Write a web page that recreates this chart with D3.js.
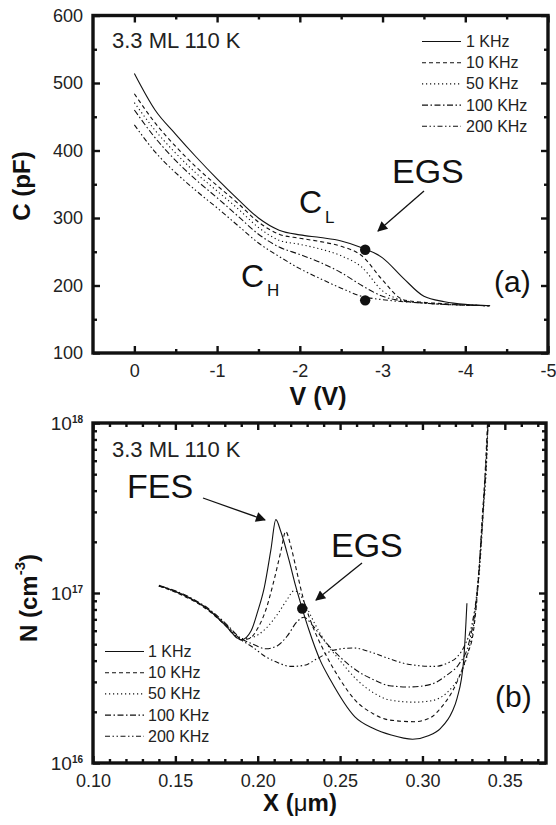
<!DOCTYPE html>
<html lang="en">
  <head>
    <meta charset="UTF-8" />
    <title>C-V and N-X profiles</title>
    <style>
      body {
        margin: 0;
        background: #fff;
      }
      #chart {
        width: 556px;
        height: 825px;
      }
      text {
        font-family: "Liberation Sans", Arial, sans-serif;
      }
    </style>
  </head>
  <body>
    <div id="chart"></div>
    <script src="https://cdn.jsdelivr.net/npm/d3@7/dist/d3.min.js"></script>
    <script>
      // frequencies shown in both panels
      var freqLabels = ["1 KHz", "10 KHz", "50 KHz", "100 KHz", "200 KHz"];

      // panel (a): C (pF) vs V (V)
      var voltage = [0, -0.25, -0.5, -0.75, -1, -1.25, -1.5, -1.75, -2, -2.25, -2.5, -2.75, -3, -3.25, -3.5, -3.75, -4, -4.3];
      var cap1k = [514, 460, 424, 390, 358, 328, 300, 282, 275, 271, 266, 256, 241, 211, 184, 176, 172, 170];
      var cap10k = [484, 441, 406, 375, 348, 322, 294, 276, 270, 265, 258, 244, 208, 179, 175, 173, 171, 170];
      var cap50k = [471, 430, 396, 366, 340, 314, 286, 267, 261, 254, 244, 227, 192, 178, 174, 172, 171, 170];
      var cap100k = [460, 419, 385, 356, 330, 303, 276, 257, 246, 234, 219, 200, 184, 177, 174, 172, 171, 170];
      var cap200k = [438, 398, 367, 340, 315, 289, 263, 243, 225, 210, 196, 184, 179, 176, 174, 172, 171, 170];
      var egsA = [[-2.79, 253], [-2.79, 178]];

      // panel (b): N (cm-3) vs X (um)
      var x1k = [0.14, 0.15, 0.16, 0.17, 0.18, 0.19, 0.196, 0.2, 0.204, 0.208, 0.211, 0.214, 0.219, 0.223, 0.227, 0.231, 0.238, 0.244, 0.259, 0.27, 0.281, 0.294, 0.304, 0.311, 0.318, 0.321, 0.325, 0.327];
      var n1k = [1.11e17, 1.02e17, 9.2e16, 8.0e16, 6.5e16, 5.3e16, 6.0e16, 7.8e16, 1.08e17, 1.8e17, 2.7e17, 2.3e17, 1.56e17, 1.1e17, 8.1e16, 6.1e16, 4.0e16, 3.1e16, 1.87e16, 1.6e16, 1.46e16, 1.38e16, 1.45e16, 1.6e16, 2.0e16, 2.4e16, 4.0e16, 8.7e16];
      var x10k = [0.14, 0.15, 0.16, 0.17, 0.18, 0.19, 0.195, 0.2, 0.205, 0.21, 0.214, 0.217, 0.22, 0.224, 0.228, 0.233, 0.24, 0.25, 0.259, 0.27, 0.28, 0.295, 0.305, 0.311, 0.321, 0.327, 0.331, 0.334, 0.336, 0.338, 0.3395];
      var n10k = [1.1e17, 1.01e17, 9.1e16, 7.9e16, 6.5e16, 5.3e16, 5.4e16, 6.2e16, 8.0e16, 1.2e17, 1.75e17, 2.3e17, 1.9e17, 1.3e17, 9.0e16, 6.5e16, 4.6e16, 3.1e16, 2.35e16, 1.95e16, 1.79e16, 1.75e16, 1.85e16, 2.1e16, 3.0e16, 4.3e16, 6.0e16, 1.2e17, 2.5e17, 5.0e17, 1e18];
      var x50k = [0.14, 0.15, 0.16, 0.17, 0.18, 0.19, 0.197, 0.205, 0.212, 0.218, 0.222, 0.225, 0.229, 0.235, 0.242, 0.25, 0.26, 0.27, 0.28, 0.295, 0.305, 0.315, 0.322, 0.328, 0.332, 0.335, 0.337, 0.339, 0.3398];
      var n50k = [1.1e17, 1.02e17, 9.2e16, 8.0e16, 6.6e16, 5.4e16, 5.5e16, 6.2e16, 7.5e16, 9.2e16, 1.03e17, 1.0e17, 8.5e16, 6.5e16, 5.0e16, 4.0e16, 3.1e16, 2.6e16, 2.35e16, 2.28e16, 2.32e16, 2.6e16, 3.2e16, 4.6e16, 7.5e16, 1.5e17, 3.0e17, 6.0e17, 1e18];
      var x100k = [0.14, 0.15, 0.16, 0.17, 0.18, 0.19, 0.197, 0.205, 0.212, 0.218, 0.224, 0.228, 0.233, 0.24, 0.25, 0.26, 0.27, 0.28, 0.292, 0.305, 0.315, 0.322, 0.328, 0.332, 0.335, 0.337, 0.339, 0.3398];
      var n100k = [1.1e17, 1.03e17, 9.3e16, 8.1e16, 6.7e16, 5.4e16, 5.0e16, 4.7e16, 4.9e16, 5.6e16, 6.8e16, 7.2e16, 6.5e16, 5.3e16, 4.2e16, 3.5e16, 3.1e16, 2.85e16, 2.8e16, 2.9e16, 3.3e16, 3.8e16, 5.0e16, 8.0e16, 1.6e17, 3.2e17, 6.5e17, 1e18];
      var x200k = [0.14, 0.15, 0.16, 0.17, 0.18, 0.19, 0.197, 0.205, 0.212, 0.22, 0.228, 0.236, 0.246, 0.258, 0.27, 0.28, 0.292, 0.307, 0.316, 0.321, 0.326, 0.33, 0.333, 0.335, 0.337, 0.339, 0.3398];
      var n200k = [1.1e17, 1.02e17, 9.2e16, 8.0e16, 6.6e16, 5.3e16, 4.8e16, 4.2e16, 3.9e16, 3.7e16, 3.75e16, 4.1e16, 4.6e16, 4.75e16, 4.45e16, 4.1e16, 3.8e16, 3.7e16, 3.9e16, 4.2e16, 5.0e16, 6.5e16, 1.0e17, 1.7e17, 3.3e17, 7.0e17, 1e18];
      var egsB = [[0.227, 8.1e16]];

      // tick values
      var vTicks = [0, -1, -2, -3, -4, -5];
      var vMinor = [-0.5, -1.5, -2.5, -3.5, -4.5];
      var cTicks = [100, 200, 300, 400, 500, 600];
      var cMinor = [150, 250, 350, 450, 550];
      var xTicks = [0.1, 0.15, 0.2, 0.25, 0.3, 0.35];
      var xMinor = [0.11, 0.12, 0.13, 0.14, 0.16, 0.17, 0.18, 0.19, 0.21, 0.22, 0.23, 0.24, 0.26, 0.27, 0.28, 0.29, 0.31, 0.32, 0.33, 0.34, 0.36, 0.37];
      var nTicks = [1e16, 1e17, 1e18];
      var nExp = ["16", "17", "18"];
      var nMinor = [2e16, 3e16, 4e16, 5e16, 6e16, 7e16, 8e16, 9e16, 2e17, 3e17, 4e17, 5e17, 6e17, 7e17, 8e17, 9e17];

      var dashes = [null, "4,3", "1.2,2.8", "6,2.5,1.5,2.5", "5,2.5,1.5,2.5,1.5,2.5"];
      var ink = "#111";

      var svg = d3
        .select("#chart")
        .append("svg")
        .attr("width", 556)
        .attr("height", 825);

      svg
        .append("defs")
        .append("marker")
        .attr("id", "head")
        .attr("viewBox", "0 0 10 10")
        .attr("refX", 9)
        .attr("refY", 5)
        .attr("markerUnits", "userSpaceOnUse")
        .attr("markerWidth", 13)
        .attr("markerHeight", 10)
        .attr("orient", "auto")
        .append("path")
        .attr("d", "M0,0 L10,5 L0,10 Z")
        .attr("fill", ink);

      var xA = d3.scaleLinear().domain([0.5, -5]).range([93, 548]);
      var yA = d3.scaleLinear().domain([100, 600]).range([353, 15.5]);
      var xB = d3.scaleLinear().domain([0.1, 0.375]).range([93, 546]);
      var yB = d3.scaleLog().domain([1e16, 1e18]).range([763, 423]);

      function styleAxis(g, labels) {
        g.select(".domain").remove();
        g.selectAll(".tick line").attr("stroke", ink).attr("stroke-width", 2.4);
        g.selectAll("text")
          .attr("fill", "#222")
          .attr("font-size", labels ? 18 : 0)
          .attr("font-family", "'Liberation Sans', Arial, sans-serif");
      }

      // ticks inward on all four sides, labels on bottom and left
      function frameAxes(x, y, xt, xm, yt, ym, xfmt, yfmt) {
        var x0 = x.range()[0], x1 = x.range()[1];
        var y0 = y.range()[0], y1 = y.range()[1];
        var g;
        g = svg.append("g").attr("transform", "translate(0," + y0 + ")")
          .call(d3.axisBottom(x).tickValues(xt).tickSizeInner(-7).tickSizeOuter(0).tickPadding(11).tickFormat(xfmt));
        styleAxis(g, true);
        g = svg.append("g").attr("transform", "translate(0," + y0 + ")")
          .call(d3.axisBottom(x).tickValues(xm).tickSizeInner(-4).tickSizeOuter(0).tickFormat(""));
        styleAxis(g, false);
        g = svg.append("g").attr("transform", "translate(0," + y1 + ")")
          .call(d3.axisTop(x).tickValues(xt).tickSizeInner(-7).tickSizeOuter(0).tickFormat(""));
        styleAxis(g, false);
        g = svg.append("g").attr("transform", "translate(0," + y1 + ")")
          .call(d3.axisTop(x).tickValues(xm).tickSizeInner(-4).tickSizeOuter(0).tickFormat(""));
        styleAxis(g, false);
        var left = svg.append("g").attr("transform", "translate(" + x0 + ",0)")
          .call(d3.axisLeft(y).tickValues(yt).tickSizeInner(-7).tickSizeOuter(0).tickPadding(10).tickFormat(yfmt));
        styleAxis(left, true);
        g = svg.append("g").attr("transform", "translate(" + x0 + ",0)")
          .call(d3.axisLeft(y).tickValues(ym).tickSizeInner(-4).tickSizeOuter(0).tickFormat(""));
        styleAxis(g, false);
        g = svg.append("g").attr("transform", "translate(" + x1 + ",0)")
          .call(d3.axisRight(y).tickValues(yt).tickSizeInner(-7).tickSizeOuter(0).tickFormat(""));
        styleAxis(g, false);
        g = svg.append("g").attr("transform", "translate(" + x1 + ",0)")
          .call(d3.axisRight(y).tickValues(ym).tickSizeInner(-4).tickSizeOuter(0).tickFormat(""));
        styleAxis(g, false);

        svg.append("rect")
          .attr("x", x0).attr("y", y1)
          .attr("width", x1 - x0).attr("height", y0 - y1)
          .attr("fill", "none")
          .attr("stroke", ink)
          .attr("stroke-width", 3.4);
        return left;
      }

      function drawLegend(x, y, label) {
        var rows = svg.append("g").selectAll("g")
          .data(freqLabels)
          .join("g")
          .attr("transform", function (d, i) { return "translate(" + x + "," + (y + i * 21.2) + ")"; });
        rows.append("line")
          .attr("x1", 0).attr("x2", 39).attr("y1", -5.5).attr("y2", -5.5)
          .attr("stroke", ink).attr("stroke-width", 1.1)
          .attr("stroke-dasharray", function (d, i) { return dashes[i]; });
        rows.append("text")
          .attr("x", label)
          .attr("font-size", 16)
          .attr("fill", "#222")
          .text(function (d) { return d; });
      }

      function text(x, y, size, str, weight) {
        return svg.append("text")
          .attr("x", x).attr("y", y)
          .attr("font-size", size)
          .attr("font-weight", weight || "normal")
          .attr("fill", ink)
          .text(str);
      }

      function arrow(x1, y1, x2, y2) {
        svg.append("line")
          .attr("x1", x1).attr("y1", y1).attr("x2", x2).attr("y2", y2)
          .attr("stroke", ink).attr("stroke-width", 1.3)
          .attr("marker-end", "url(#head)");
      }

      // ---------- panel (a) ----------
      frameAxes(xA, yA, vTicks, vMinor, cTicks, cMinor, function (d) { return String(d); }, function (d) { return String(d); });

      var capSeries = [cap1k, cap10k, cap50k, cap100k, cap200k];
      var lineA = d3.line()
        .curve(d3.curveMonotoneX)
        .x(function (d, i) { return xA(voltage[i]); })
        .y(function (d) { return yA(d); });

      svg.append("g").selectAll("path")
        .data(capSeries)
        .join("path")
        .attr("d", lineA)
        .attr("fill", "none")
        .attr("stroke", ink)
        .attr("stroke-width", 1.1)
        .attr("stroke-dasharray", function (d, i) { return dashes[i]; });

      svg.append("g").selectAll("circle")
        .data(egsA)
        .join("circle")
        .attr("cx", function (d) { return xA(d[0]); })
        .attr("cy", function (d) { return yA(d[1]); })
        .attr("r", 5.2)
        .attr("fill", ink);

      drawLegend(422, 47, 44);
      text(112, 48, 22, "3.3 ML 110 K").attr("fill", "#222");
      text(392, 183, 34, "EGS");
      arrow(424, 191, 378, 231);
      text(299, 213, 32, "C");
      text(325, 223, 17, "L");
      text(241, 287, 32, "C");
      text(267, 296, 17, "H");
      text(494, 292, 30, "(a)");

      text(318, 405, 25, "V (V)", "bold").attr("text-anchor", "middle");
      svg.append("text")
        .attr("transform", "translate(30,186) rotate(-90)")
        .attr("text-anchor", "middle")
        .attr("font-size", 24)
        .attr("font-weight", "bold")
        .attr("fill", ink)
        .text("C (pF)");

      // ---------- panel (b) ----------
      var leftB = frameAxes(xB, yB, xTicks, xMinor, nTicks, nMinor, d3.format(".2f"), function () { return ""; });

      leftB.selectAll(".tick text").each(function (d, i) {
        var t = d3.select(this).attr("font-size", 19);
        t.append("tspan").text("10");
        t.append("tspan")
          .attr("font-size", 10)
          .attr("font-weight", "bold")
          .attr("dy", "-0.7em")
          .text(nExp[i]);
      });

      var profX = [x1k, x10k, x50k, x100k, x200k];
      var profN = [n1k, n10k, n50k, n100k, n200k];
      var lineB = d3.line()
        .curve(d3.curveMonotoneX)
        .x(function (d) { return xB(d[0]); })
        .y(function (d) { return yB(d[1]); });

      svg.append("g").selectAll("path")
        .data(profN)
        .join("path")
        .attr("d", function (d, i) {
          return lineB(d.map(function (v, j) { return [profX[i][j], v]; }));
        })
        .attr("fill", "none")
        .attr("stroke", ink)
        .attr("stroke-width", 1.1)
        .attr("stroke-dasharray", function (d, i) { return dashes[i]; });

      svg.append("g").selectAll("circle")
        .data(egsB)
        .join("circle")
        .attr("cx", function (d) { return xB(d[0]); })
        .attr("cy", function (d) { return yB(d[1]); })
        .attr("r", 5.2)
        .attr("fill", ink);

      drawLegend(105, 657, 43);
      text(112, 457, 22, "3.3 ML 110 K").attr("fill", "#222");
      text(127, 498, 34, "FES");
      arrow(203, 498, 265, 520);
      text(331, 557, 34, "EGS");
      arrow(362, 563, 316, 600);
      text(495, 707, 30, "(b)");

      var xt = text(300, 811, 24, "", "bold").attr("text-anchor", "middle");
      xt.append("tspan").text("X (");
      xt.append("tspan").attr("font-weight", "normal").text("\u03bc");
      xt.append("tspan").text("m)");

      var yt = svg.append("text")
        .attr("transform", "translate(37,598) rotate(-90)")
        .attr("text-anchor", "middle")
        .attr("font-size", 24)
        .attr("font-weight", "bold")
        .attr("fill", ink);
      yt.append("tspan").text("N (cm");
      yt.append("tspan").attr("font-size", 15).attr("dy", "-0.8em").text("-3");
      yt.append("tspan").attr("dy", "0.5em").text(")");
    </script>
  </body>
</html>
